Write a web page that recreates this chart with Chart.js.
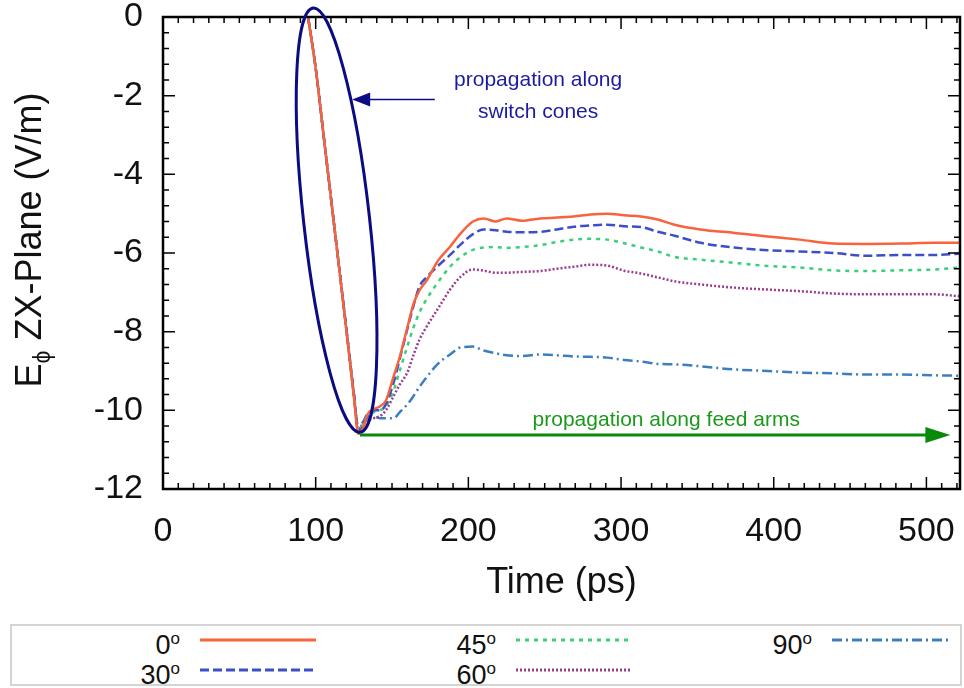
<!DOCTYPE html>
<html>
<head>
<meta charset="utf-8">
<script src="https://cdn.jsdelivr.net/npm/chart.js@4.4.1/dist/chart.umd.min.js"></script>
<style>
  body { margin: 0; background: #fff; font-family: "Liberation Sans", Arial, sans-serif; }
  #wrap { position: relative; width: 964px; height: 620px; }
  #legend { position: absolute; left: 10px; top: 624px; width: 948px; height: 58px;
            border: 2px solid #d4d4d4; }
  .item { position: absolute; height: 30px; }
  .item span { position: absolute; right: 0; top: -2px; font-size: 27px; color: #111; line-height: 30px; }
  .item sup { font-size: 17px; vertical-align: 10px; }
  .item svg { position: absolute; top: 7px; }
</style>
</head>
<body>
<div id="wrap"><canvas id="myChart"></canvas></div>
<div id="legend"></div>
<script>
// time axis (ps), shared by all curves
const times = [95, 100, 105, 110, 115, 120, 125, 128, 131, 134, 138, 142, 146, 151, 155, 160, 164, 168,
  173, 180, 188, 195, 203, 210, 218, 225, 235, 247, 258, 269, 280, 291, 302, 313, 324, 335, 352, 374,
  396, 417, 439, 461, 483, 505, 522]

// E-phi values (V/m) per angle
const deg0 = [0, -1.3, -2.95, -4.6, -6.25, -7.95, -9.65, -10.6,
  -10.45, -10.1, -9.97, -9.9, -9.75, -9.14, -8.65, -7.9, -7.3, -6.95,
  -6.68, -6.2, -5.84, -5.5, -5.2, -5.12, -5.2, -5.12, -5.18, -5.12,
  -5.1, -5.07, -5.02, -5.0, -5.04, -5.07, -5.15, -5.28, -5.4, -5.49,
  -5.58, -5.66, -5.76, -5.77, -5.76, -5.74, -5.74]
const deg30 = [0, -1.3, -2.95, -4.6, -6.25, -7.9, -9.6, -10.55,
  -10.4, -10.15, -10.0, -10.0, -9.85, -9.3, -8.7, -7.94, -7.35, -6.85,
  -6.6, -6.33, -6.05, -5.78, -5.52, -5.4, -5.42, -5.46, -5.47, -5.46,
  -5.4, -5.33, -5.3, -5.28, -5.32, -5.34, -5.46, -5.56, -5.74, -5.86,
  -5.93, -5.96, -6.0, -6.07, -6.05, -6.05, -6.02]
const deg45 = [0, -1.3, -2.95, -4.6, -6.25, -7.9, -9.6, -10.55,
  -10.35, -10.2, -10.05, -10.0, -9.9, -9.5, -9.0, -8.38, -7.9, -7.51,
  -7.15, -6.75, -6.35, -6.1, -5.92, -5.86, -5.85, -5.87, -5.85, -5.8,
  -5.72, -5.66, -5.64, -5.66, -5.75, -5.86, -5.96, -6.1, -6.17, -6.25,
  -6.33, -6.37, -6.44, -6.46, -6.44, -6.42, -6.37]
const deg60 = [0, -1.3, -2.95, -4.6, -6.25, -7.9, -9.6, -10.55,
  -10.3, -10.25, -10.2, -10.15, -10.0, -9.64, -9.35, -9.04, -8.6, -8.2,
  -7.85, -7.42, -6.93, -6.6, -6.42, -6.45, -6.5, -6.5, -6.48, -6.46,
  -6.4, -6.35, -6.3, -6.32, -6.45, -6.52, -6.62, -6.72, -6.8, -6.88,
  -6.93, -6.97, -7.03, -7.05, -7.05, -7.05, -7.1]
const deg90 = [0, -1.3, -2.95, -4.6, -6.25, -7.9, -9.55, -10.45,
  -10.3, -10.1, -10.15, -10.2, -10.2, -10.2, -10.05, -9.85, -9.64, -9.4,
  -9.14, -8.82, -8.58, -8.4, -8.38, -8.48, -8.55, -8.6, -8.62, -8.58,
  -8.6, -8.63, -8.64, -8.66, -8.72, -8.76, -8.82, -8.83, -8.88, -8.96,
  -9.0, -9.04, -9.06, -9.09, -9.09, -9.11, -9.12]

const seriesLabels = ['0', '30', '45', '60', '90']
const seriesData = [deg0, deg30, deg45, deg60, deg90]
const seriesColors = ['#f8623c', '#3b4fc8', '#3ccf7a', '#9b3c8e', '#3c7fbf']
const seriesDash = [[], [9, 4], [4, 5], [2, 2], [10, 4, 2, 4]]

const font = '"Liberation Sans", Arial, sans-serif'

// inward ticks + frame + annotations + y title
const framePlugin = {
    id: 'frame',
    afterDatasetsDraw(chart) {
        const ctx = chart.ctx
        const a = chart.chartArea
        const x = chart.scales.x
        const y = chart.scales.y
        ctx.save()
        ctx.strokeStyle = '#000'
        ctx.lineWidth = 1.5
        for (let t = 0; t <= 520; t += 10) {
            const px = x.getPixelForValue(t)
            const len = t % 100 === 0 ? 12 : 6
            ctx.beginPath()
            ctx.moveTo(px, a.bottom); ctx.lineTo(px, a.bottom - len)
            ctx.moveTo(px, a.top); ctx.lineTo(px, a.top + len)
            ctx.stroke()
        }
        for (let i = 0; i <= 30; i++) {
            const py = y.getPixelForValue(-i * 0.4)
            const len = i % 5 === 0 ? 12 : 6
            ctx.beginPath()
            ctx.moveTo(a.left, py); ctx.lineTo(a.left + len, py)
            ctx.moveTo(a.right, py); ctx.lineTo(a.right - len, py)
            ctx.stroke()
        }
        ctx.lineWidth = 2.5
        ctx.strokeRect(a.left, a.top, a.right - a.left, a.bottom - a.top)

        // ellipse round the switch-cone part
        const top = { x: x.getPixelForValue(98.3), y: y.getPixelForValue(0.23) }
        const bot = { x: x.getPixelForValue(129.1), y: y.getPixelForValue(-10.56) }
        const dx = bot.x - top.x, dy = bot.y - top.y
        const rMaj = Math.sqrt(dx * dx + dy * dy) / 2
        const rMin = x.getPixelForValue(21.6) - x.getPixelForValue(0)
        ctx.strokeStyle = '#0b0b82'
        ctx.lineWidth = 3
        ctx.beginPath()
        ctx.ellipse((top.x + bot.x) / 2, (top.y + bot.y) / 2, rMin, rMaj, -Math.atan2(dx, dy), 0, Math.PI * 2)
        ctx.stroke()

        // blue arrow + text
        const ay = y.getPixelForValue(-2.1)
        const tip = x.getPixelForValue(123.9)
        ctx.lineWidth = 1.5
        ctx.beginPath()
        ctx.moveTo(tip + 12, ay); ctx.lineTo(x.getPixelForValue(178), ay)
        ctx.stroke()
        ctx.fillStyle = '#0b0b82'
        ctx.beginPath()
        ctx.moveTo(tip, ay); ctx.lineTo(tip + 18, ay - 7); ctx.lineTo(tip + 18, ay + 7)
        ctx.closePath(); ctx.fill()
        ctx.fillStyle = '#1c1ca0'
        ctx.font = '21px ' + font
        ctx.textAlign = 'center'
        ctx.textBaseline = 'middle'
        ctx.fillText('propagation along', x.getPixelForValue(245.7), y.getPixelForValue(-1.6))
        ctx.fillText('switch cones', x.getPixelForValue(245.7), y.getPixelForValue(-2.41))

        // green arrow + text
        const gy = y.getPixelForValue(-10.63)
        const gx0 = x.getPixelForValue(129)
        const gx1 = x.getPixelForValue(515.7)
        ctx.strokeStyle = '#0a8a0a'
        ctx.lineWidth = 3
        ctx.beginPath()
        ctx.moveTo(gx0, gy); ctx.lineTo(gx1 - 20, gy)
        ctx.stroke()
        ctx.fillStyle = '#0a8a0a'
        ctx.beginPath()
        ctx.moveTo(gx1, gy); ctx.lineTo(gx1 - 25, gy - 8); ctx.lineTo(gx1 - 25, gy + 8)
        ctx.closePath(); ctx.fill()
        ctx.fillStyle = '#1a991a'
        ctx.fillText('propagation along feed arms', x.getPixelForValue(329.6), y.getPixelForValue(-10.25))
        ctx.restore()
    },
    afterDraw(chart) {
        // y title with subscript phi
        const ctx = chart.ctx
        ctx.save()
        ctx.translate(41, 240)
        ctx.rotate(-Math.PI / 2)
        ctx.fillStyle = '#111'
        ctx.textBaseline = 'alphabetic'
        ctx.textAlign = 'left'
        const big = '36px ' + font, small = '23px ' + font
        ctx.font = big
        const wE = ctx.measureText('E').width
        const wRest = ctx.measureText(' ZX-Plane (V/m)').width
        ctx.font = small
        const wPhi = ctx.measureText('\u03d5').width
        let cx = -(wE + wPhi + wRest) / 2
        ctx.font = big
        ctx.fillText('E', cx, 0)
        cx += wE
        ctx.font = small
        ctx.fillText('\u03d5', cx, 9)
        cx += wPhi
        ctx.font = big
        ctx.fillText(' ZX-Plane (V/m)', cx, 0)
        ctx.restore()
    }
}

const showChart = (canvas_id) => {
    const ctx = document.getElementById(canvas_id)
    new Chart(ctx, {
        type: 'line',
        data: {
            datasets: seriesLabels.map((lab, i) => ({
                label: lab,
                data: times.map((t, j) => ({ x: t, y: seriesData[i][j] })),
                borderColor: seriesColors[i],
                borderDash: seriesDash[i],
                borderWidth: 2.5,
                pointRadius: 0,
                cubicInterpolationMode: 'monotone',
                fill: false
            }))
        },
        options: {
            responsive: true,
            maintainAspectRatio: false,
            animation: false,
            layout: { padding: { left: 0, top: 17, right: 4, bottom: 0 } },
            scales: {
                x: {
                    type: 'linear',
                    min: 0,
                    max: 522,
                    grid: { display: false, drawTicks: false },
                    border: { display: false },
                    ticks: { stepSize: 100, includeBounds: false, padding: 22, color: '#111',
                             font: { family: font, size: 34 } },
                    title: { display: true, text: 'Time (ps)', color: '#111',
                             font: { family: font, size: 36 }, padding: { top: 0, bottom: 15 } },
                    afterFit: (scale) => {
                        scale.height = 131
                        scale.paddingLeft = 0
                        scale.paddingRight = 0
                    }
                },
                y: {
                    min: -12,
                    max: 0,
                    grid: { display: false, drawTicks: false },
                    border: { display: false },
                    ticks: { stepSize: 2, padding: 20, color: '#111',
                             font: { family: font, size: 34 } },
                    afterFit: (scale) => {
                        scale.width = 163
                        scale.paddingTop = 0
                        scale.paddingBottom = 0
                    }
                }
            },
            plugins: {
                legend: { display: false },
                tooltip: { enabled: false }
            }
        },
        plugins: [framePlugin]
    })
}

showChart('myChart')

// html legend built from the same series arrays
const legendPos = [[0, 0], [0, 1], [1, 0], [1, 1], [2, 0]]
const legend = document.getElementById('legend')
seriesLabels.forEach((lab, i) => {
    const col = legendPos[i][0], row = legendPos[i][1]
    const div = document.createElement('div')
    div.className = 'item'
    div.style.left = (30 + col * 316) + 'px'
    div.style.top = (0 + row * 30) + 'px'
    div.style.width = '274px'
    div.innerHTML = '<span style="right:136px">' + lab + '<sup>o</sup></span>' +
        '<svg width="116" height="14" style="right:0"><line x1="0" y1="7" x2="116" y2="7" stroke="' +
        seriesColors[i] + '" stroke-width="3" stroke-dasharray="' + (seriesDash[i].join(' ') || 'none') + '"/></svg>'
    legend.appendChild(div)
})
</script>
</body>
</html>
